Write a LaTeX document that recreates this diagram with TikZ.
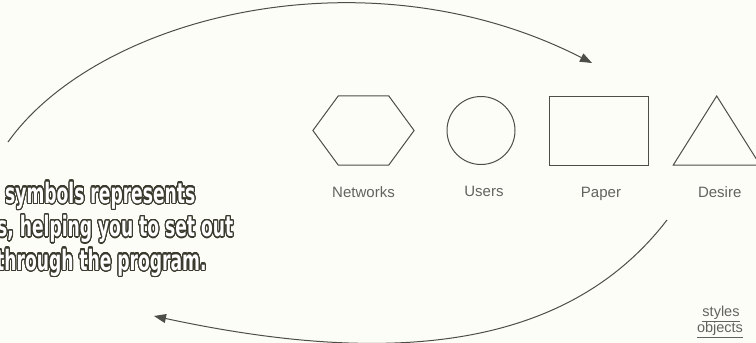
\documentclass[tikz,border=0pt]{standalone}
\usepackage{fontspec}
\setmainfont{Liberation Sans}
\newfontfamily\headfont{DejaVu Sans Condensed}
\usepackage[copies]{contour}
\contourlength{1.5pt}
\contournumber{32}
\usetikzlibrary{arrows.meta,positioning,shapes.geometric}
\definecolor{bgcol}{HTML}{FDFDF8}
\definecolor{linegray}{HTML}{4E4E48}
\definecolor{labelgray}{HTML}{626260}
\definecolor{outcol}{HTML}{3A3A2E}
\newcommand{\hdline}[1]{\scalebox{0.68}[1]{\contour{outcol}{\textcolor{white}{#1}}}}

\begin{document}
\begin{tikzpicture}[x=1pt,y=-1pt, font=\fontsize{15}{16}\selectfont,
 shp/.style={draw=linegray,line width=1pt,inner sep=0pt},
 lbl/.style={text=labelgray,inner sep=0pt},
 ul/.style={lbl,anchor=base,font=\fontsize{14.5}{15}\selectfont},
 arc/.style={draw=linegray,line width=1pt,-{Triangle[length=12pt,width=9pt]}},
 hd/.style={anchor=base west,inner sep=0pt,font=\headfont\bfseries\fontsize{28}{29}\selectfont}]
\path[use as bounding box,fill=bgcol] (0,0) rectangle (756,343);
% shapes
\node[shp,regular polygon,regular polygon sides=6,minimum size=79.7pt,xscale=1.27,transform shape] (net) at (363.5,130.5) {};
\node[shp,circle,minimum size=68pt] (usr) at (481,130.5) {};
\node[shp,minimum width=99.7pt,minimum height=69pt] (pap) at (599,130.5) {};
\node[shp,regular polygon,regular polygon sides=3,minimum size=92pt,xscale=1.09,transform shape] (des) at (716.7,142) {};
\node[lbl,below=31.5pt of net,anchor=base] (netl) {Networks};
\node[lbl,below=31.5pt of usr,anchor=base,xshift=3pt] (usrl) {Users};
\node[lbl,below=31.5pt of pap,anchor=base,xshift=2pt] (papl) {Paper};
\node[lbl,below=31.5pt of des,anchor=base,xshift=3pt] (desl) {Desire};
\node[ul] (sty) at (721,316.5) {\underline{styles}};
\node[ul] (obj) at (720,332.5) {\underline{objects}};
% caption text
\node[hd] (h1) at (5,203) {\hdline{symbols represents}};
\node[hd] (h2) at (-3,236.5) {\hdline{s, helping you to set out}};
\node[hd] (h3) at (-4,270) {\hdline{through the program.}};
% loop arrows
\coordinate (ts) at (8,142); \coordinate (te) at (592,63);
\coordinate (bs) at (667,220); \coordinate (be) at (154,316);
\draw[arc] (ts) .. controls (98,16) and (367,-52) .. (te);
\draw[arc] (bs) .. controls (567,350) and (391,367) .. (be);
\end{tikzpicture}
\end{document}
